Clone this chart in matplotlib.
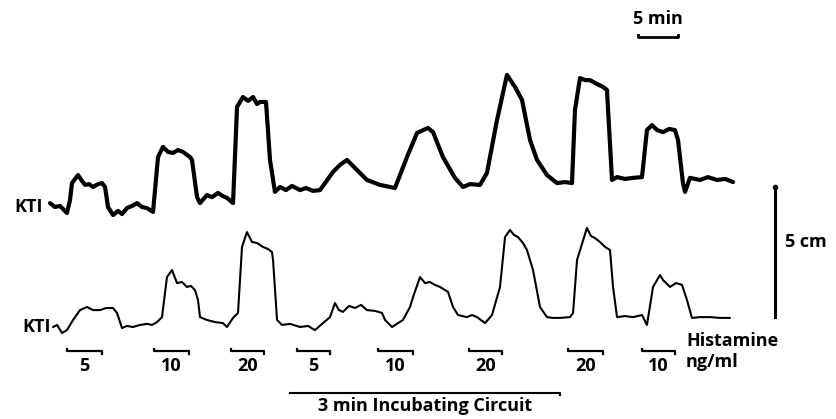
import numpy as np
import matplotlib
matplotlib.use("Agg")
import matplotlib.pyplot as plt

# recorder traces: time (min) vs deflection above baseline (cm)
t_upper = [0, 0.62, 1.25, 2.12, 2.5, 2.75, 3.5, 4.0, 4.38, 4.88, 5.38, 6.0, 6.5, 6.88,
           7.25, 7.88, 8.5, 9.0, 9.62, 10.25, 10.88, 11.5, 12.12, 12.88,
           13.5, 14.12, 14.75, 15.38, 16.0, 16.62, 17.5, 17.75,
           18.38, 18.75, 19.62, 20.25, 21.0, 21.62, 22.12, 22.88,
           23.38, 24.12, 24.75, 25.38, 25.88, 26.25, 27.0,
           27.5, 28.12, 28.75, 29.5, 30.25, 31.25, 32.0, 32.88, 33.75, 34.38,
           35.38, 36.25, 37.12, 38.38, 39.62, 41.25, 43.12,
           43.75, 44.62, 45.88, 47.25, 47.88, 49.12, 50.62, 51.62, 52.5, 53.75, 54.62,
           55.88, 57.12, 58.12, 59.0, 60.0, 60.88, 62.12, 63.38, 64.38, 65.25,
           65.62, 66.25, 66.88, 67.5, 68.38, 69.12, 69.62,
           70.25, 70.88, 71.88, 72.88, 74.0,
           74.62, 75.25, 75.88, 76.62, 77.38, 78.12, 78.5,
           79.12, 79.38, 80.0, 81.25, 82.25, 83.38, 84.38, 85.38]
d_upper = [0.15, 0, 0.04, -0.23, 0.27, 0.92, 1.23, 1.0, 0.85, 0.88, 0.77, 0.88, 0.92, 0.77,
           0, -0.31, -0.15, -0.27, -0.04, 0.04, 0.15, 0, -0.04, -0.19,
           1.92, 2.31, 2.12, 2.08, 2.19, 2.12, 1.92, 1.81,
           0.38, 0.15, 0.46, 0.38, 0.54, 0.42, 0.35, 0.15,
           3.85, 4.23, 4.08, 4.23, 3.96, 4.04, 4.04,
           1.81, 0.58, 0.77, 0.65, 0.81, 0.65, 0.73, 0.62, 0.65, 0.92,
           1.35, 1.62, 1.81, 1.42, 1.04, 0.85, 0.73,
           1.23, 1.92, 2.85, 3.04, 2.88, 1.92, 1.12, 0.77, 0.88, 0.85, 1.31,
           3.35, 5.08, 4.62, 4.12, 2.58, 1.81, 1.23, 0.92, 0.96, 0.92,
           3.73, 4.96, 4.88, 4.88, 4.73, 4.62, 4.5,
           1.04, 1.15, 1.08, 1.12, 1.15,
           2.96, 3.15, 2.96, 2.88, 3.0, 2.96, 2.58,
           0.92, 0.58, 1.12, 1.04, 1.15, 1.04, 1.08, 0.96]

t_lower = [0.38, 0.88, 1.5, 2.12, 2.88, 3.75, 4.62, 5.38, 6.25, 7.0, 7.88, 8.38,
           9.0, 9.62, 10.38, 11.25, 12.12, 12.75, 13.38, 14.0,
           14.62, 15.25, 15.88, 16.5, 17.12, 17.62, 18.12, 18.5,
           18.75, 19.62, 20.62, 21.62, 22.12, 22.88, 23.5,
           24.0, 24.62, 25.25, 25.88, 26.62, 27.25, 27.75, 27.88,
           28.38, 29.0, 30.0, 31.25, 32.25, 33.12, 34.12, 35.0,
           35.62, 36.12, 36.62, 37.38, 38.12, 38.88, 39.62, 40.62, 41.5, 41.88,
           42.75, 43.5, 44.12, 45.0, 45.38, 46.25, 46.88, 47.5, 48.12, 48.75, 49.75,
           50.38, 51.0, 52.12, 52.75, 53.38, 54.38, 55.25,
           56.25, 56.88, 57.5, 58.0, 58.5, 59.12, 59.62, 60.38,
           61.25, 62.12, 62.88, 63.75, 65.0, 65.38,
           65.88, 67.12, 67.62, 68.12, 68.75, 69.38, 70.0, 70.38,
           70.88, 71.88, 72.88, 74.0, 74.62,
           75.38, 76.25, 76.62, 77.5, 78.25, 79.0, 79.62,
           80.25, 81.25, 82.5, 83.75, 85.0]
d_lower = [0, 0.08, -0.23, -0.12, 0.27, 0.65, 0.77, 0.65, 0.65, 0.73, 0.73, 0.54,
           -0.04, 0.04, 0, 0.08, 0.12, 0.08, 0.19, 0.38,
           1.92, 2.19, 1.69, 1.73, 1.54, 1.58, 1.42, 1.04,
           0.38, 0.27, 0.19, 0.15, 0, 0.35, 0.54,
           3.08, 3.65, 3.27, 3.23, 3.08, 3.0, 2.88, 2.58,
           0.27, 0.08, 0.12, 0, 0.04, -0.12, 0.15, 0.38,
           0.92, 0.65, 0.58, 0.81, 0.73, 0.85, 0.65, 0.62, 0.54, 0.27,
           0, 0.15, 0.27, 0.77, 1.15, 1.92, 1.69, 1.73, 1.62, 1.54, 1.35,
           0.77, 0.46, 0.38, 0.46, 0.38, 0.15, 0.46,
           1.54, 3.46, 3.73, 3.54, 3.46, 3.23, 2.96, 2.19,
           0.77, 0.38, 0.35, 0.35, 0.38, 0.54,
           2.58, 3.81, 3.5, 3.42, 3.27, 3.08, 2.96, 1.54,
           0.38, 0.42, 0.38, 0.46, 0.08,
           1.54, 2.0, 1.81, 1.54, 1.69, 1.62, 1.04,
           0.35, 0.38, 0.38, 0.35, 0.35]

# histamine applications (min) and doses (ng/ml)
dose_start = [2.1, 13.0, 22.6, 30.9, 41.0, 52.4, 64.75, 74.0]
dose_end = [6.5, 17.4, 26.75, 35.0, 45.4, 56.5, 69.1, 78.1]
dose_labels = ['5', '10', '20', '5', '10', '20', '20', '10']
incub_start, incub_end = 30.0, 63.75

# figure is laid out in minutes (x) and cm (y)
PX_PER_MIN = 8.0
PX_PER_CM = 26.0
W, H = 836, 419
X0 = 50  # pixel of t = 0

def px(x, y):
    return (x - X0) / PX_PER_MIN, (H - y) / PX_PER_CM

fig = plt.figure(figsize=(W / 100, H / 100), dpi=100)
ax = fig.add_axes([0, 0, 1, 1])
ax.set_xlim(px(0, 0)[0], px(W, 0)[0])
ax.set_ylim(0, H / PX_PER_CM)
ax.axis('off')

upper_base = px(0, 207)[1]
lower_base = px(0, 327)[1]

ax.plot(t_upper, np.array(d_upper) + upper_base, color='black', lw=3.0,
        solid_joinstyle='round', solid_capstyle='round')
ax.plot(t_lower, np.array(d_lower) + lower_base, color='black', lw=1.5,
        solid_joinstyle='round', solid_capstyle='round')

fnt = dict(family=['Open Sans', 'DejaVu Sans'], fontweight='bold', color='black')
fs = 13

ax.text(*px(43, 207), 'KTI', ha='right', va='center', fontsize=fs, **fnt)
ax.text(*px(51, 327), 'KTI', ha='right', va='center', fontsize=fs, **fnt)

# dose bars
bar_y = px(0, 351)[1]
tick = 2.5 / PX_PER_CM
for s, e, lab in zip(dose_start, dose_end, dose_labels):
    ax.plot([s, s, e, e], [bar_y + tick, bar_y, bar_y, bar_y - tick],
            color='black', lw=1.6)
    ax.text((s + e) / 2, px(0, 366)[1], lab, ha='center', va='center',
            fontsize=fs, **fnt)

ax.text(*px(686, 341), 'Histamine', ha='left', va='center', fontsize=fs, **fnt)
ax.text(*px(686, 362), 'ng/ml', ha='left', va='center', fontsize=fs, **fnt)

# incubating circuit line
inc_y = px(0, 393)[1]
ax.plot([incub_start, incub_end, incub_end], [inc_y, inc_y, inc_y - 2 / PX_PER_CM],
        color='black', lw=1.5)
ax.text(px(425, 0)[0], px(0, 406)[1], '3 min Incubating Circuit',
        ha='center', va='center', fontsize=fs, **fnt)

# 5 min scale bar
sb_t0 = px(638, 0)[0]
sb_y = px(0, 37)[1]
ax.plot([sb_t0, sb_t0, sb_t0 + 5, sb_t0 + 5],
        [sb_y + tick * 0.6, sb_y, sb_y, sb_y + tick * 0.6], color='black', lw=2.0)
ax.text(sb_t0 + 2.5, px(0, 19)[1], '5 min', ha='center', va='center', fontsize=fs, **fnt)

# 5 cm scale bar
cb_t = px(775, 0)[0]
cb_y0 = px(0, 317)[1]
ax.plot([cb_t, cb_t], [cb_y0, cb_y0 + 5], color='black', lw=2.2)
ax.plot([cb_t], [cb_y0 + 5], 'o', color='black', ms=3)
ax.text(*px(785, 242), '5 cm', ha='left', va='center', fontsize=fs, **fnt)

fig.savefig('out.png', dpi=100)
